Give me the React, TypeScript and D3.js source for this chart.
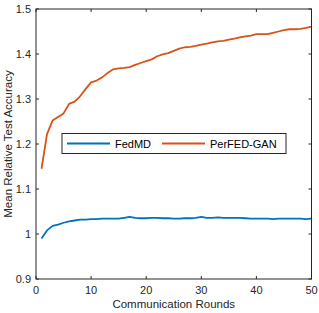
import React from 'react';
import * as d3 from 'd3';

const rounds = d3.range(1, 51);

const fedMD = [
  0.990, 1.008, 1.018, 1.021, 1.025, 1.028, 1.030, 1.032, 1.032, 1.033,
  1.033, 1.034, 1.034, 1.034, 1.034, 1.036, 1.038, 1.036, 1.035, 1.035,
  1.036, 1.036, 1.035, 1.035, 1.034, 1.034, 1.035, 1.035, 1.036, 1.038,
  1.036, 1.036, 1.037, 1.036, 1.036, 1.036, 1.036, 1.035, 1.034, 1.034,
  1.034, 1.034, 1.033, 1.034, 1.034, 1.034, 1.034, 1.034, 1.033, 1.034
];

const perFedGan = [
  1.145, 1.222, 1.252, 1.260, 1.268, 1.289, 1.294, 1.306, 1.322, 1.337,
  1.341, 1.348, 1.358, 1.366, 1.368, 1.369, 1.371, 1.376, 1.380, 1.384,
  1.388, 1.395, 1.399, 1.402, 1.407, 1.412, 1.415, 1.416, 1.418, 1.421,
  1.423, 1.426, 1.428, 1.429, 1.432, 1.434, 1.437, 1.439, 1.441, 1.444,
  1.444, 1.444, 1.447, 1.450, 1.453, 1.455, 1.455, 1.456, 1.458, 1.461
];

const xTicks = [0, 10, 20, 30, 40, 50];
const yTicks = [0.9, 1, 1.1, 1.2, 1.3, 1.4, 1.5];

const seriesNames = ['FedMD', 'PerFED-GAN'];
const seriesColors = ['#0072BD', '#D95319'];

export default function App() {
  const width = 319;
  const height = 313;
  const margin = { top: 9, right: 7.5, bottom: 34, left: 36 };
  const w = width - margin.left - margin.right;
  const h = height - margin.top - margin.bottom;

  const x = d3.scaleLinear().domain([0, 50]).range([0, w]);
  const y = d3.scaleLinear().domain([0.9, 1.5]).range([h, 0]);

  const line = d3.line<number>()
    .x((d, i) => x(rounds[i]))
    .y(d => y(d));

  const axisColor = '#262626';
  const font = 'Liberation Sans, Arial, Helvetica, sans-serif';
  const tickLen = 3;

  const series = [fedMD, perFedGan];

  // legend box
  const lg = { x: 26, y: 124.5, w: 224, h: 20 };

  return (
    <svg width={width} height={height}
         style={{ position: 'absolute', left: 0, top: 0, background: '#fff' }}
         fontFamily={font}>
      <rect x={0} y={0} width={width} height={height} fill="#fff" />
      <g transform={`translate(${margin.left},${margin.top})`}>
        {series.map((s, i) => (
          <path key={i} d={line(s) || ''} fill="none"
                stroke={seriesColors[i]} strokeWidth={1.8}
                strokeLinejoin="round" />
        ))}

        {/* box */}
        <rect x={0} y={0} width={w} height={h} fill="none"
              stroke={axisColor} strokeWidth={1} />

        {xTicks.map(t => (
          <g key={'x' + t}>
            <line x1={x(t)} x2={x(t)} y1={h} y2={h - tickLen} stroke={axisColor} />
            <line x1={x(t)} x2={x(t)} y1={0} y2={tickLen} stroke={axisColor} />
            <text x={x(t)} y={h + 15} textAnchor="middle" fontSize={11}
                  fill={axisColor}>{t}</text>
          </g>
        ))}
        {yTicks.map(t => (
          <g key={'y' + t}>
            <line x1={0} x2={tickLen} y1={y(t)} y2={y(t)} stroke={axisColor} />
            <line x1={w} x2={w - tickLen} y1={y(t)} y2={y(t)} stroke={axisColor} />
            <text x={-5} y={y(t) + 4} textAnchor="end" fontSize={11}
                  fill={axisColor}>{String(t)}</text>
          </g>
        ))}

        <text x={w / 2} y={h + 29} textAnchor="middle" fontSize={11.5}
              fill={axisColor}>Communication Rounds</text>
        <text transform={`translate(${-24.5},${h / 2}) rotate(-90)`}
              textAnchor="middle" fontSize={11.5}
              fill={axisColor}>Mean Relative Test Accuracy</text>

        <g transform={`translate(${lg.x},${lg.y})`}>
          <rect x={0} y={0} width={lg.w} height={lg.h} fill="#fff"
                stroke={axisColor} strokeWidth={1} />
          {seriesNames.map((n, i) => {
            const ox = i === 0 ? 5 : 100;
            return (
              <g key={n} transform={`translate(${ox},0)`}>
                <line x1={0} x2={43} y1={lg.h / 2} y2={lg.h / 2}
                      stroke={seriesColors[i]} strokeWidth={1.8} />
                <text x={48} y={lg.h / 2 + 4} fontSize={11}
                      fill="#000">{n}</text>
              </g>
            );
          })}
        </g>
      </g>
    </svg>
  );
}
